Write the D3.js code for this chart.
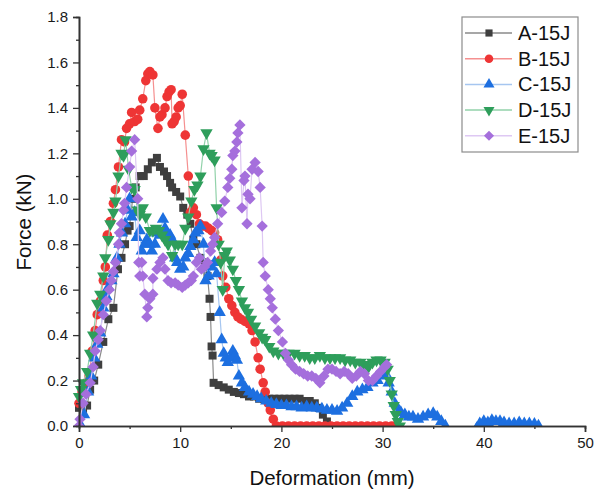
<!DOCTYPE html>
<html lang="en">
<head>
  <meta charset="UTF-8">
  <title>Force vs Deformation</title>
  <script src="https://d3js.org/d3.v7.min.js"></script>
  <style>
    body { margin: 0; padding: 0; background: #fff; }
    svg { display: block; font-family: "Liberation Sans", Arial, sans-serif; }
    .axis path, .axis line { stroke: #333; }
    .axis text { fill: #1a1a1a; font-size: 15px; }
    .title { fill: #111; font-size: 20.5px; }
    .legend text { fill: #111; font-size: 20px; }
  </style>
</head>
<body>
  <svg id="chart"></svg>

  <script>
    // [deformation (mm), force (kN)]
    const seriesA = [[0,0.08],[0.4,0.07],[0.8,0.09],[1.1,0.16],[1.5,0.2],[1.9,0.27],[2.4,0.37],[2.9,0.47],[3.4,0.52],
      [3.85,0.69],[4.2,0.74],[4.55,0.8],[4.8,0.86],[5.0,0.88],[5.3,1.0],[5.6,1.05],[6.0,1.1],[6.4,1.1],[6.8,1.13],
      [7.2,1.16],[7.7,1.18],[8.0,1.14],[8.4,1.12],[8.7,1.1],[9.0,1.07],[9.2,1.05],[9.6,1.03],[10.0,1.01],[10.3,0.96],
      [10.7,0.93],[11.0,0.89],[11.3,0.82],[11.6,0.8],[12.0,0.74],[12.4,0.72],[12.7,0.66],[12.9,0.56],[13.0,0.48],
      [13.1,0.35],[13.2,0.31],[13.3,0.19],[13.8,0.18],[14.3,0.17],[14.8,0.16],[15.3,0.15],[15.8,0.145],[16.3,0.14],
      [16.8,0.13],[17.3,0.13],[17.8,0.12],[18.3,0.12],[18.8,0.12],[19.3,0.12],[19.8,0.12],[20.3,0.12],[20.8,0.12],
      [21.3,0.12],[21.8,0.12],[22.3,0.11],[22.8,0.11],[23.3,0.1],[23.7,0.08],[24.1,0.05],[24.5,0.02],[24.9,0.0],[25.3,0.0]];

    const seriesB = [[0,0.1],[0.3,0.15],[0.7,0.19],[1.0,0.22],[1.3,0.33],[1.6,0.42],[1.8,0.49],[2.1,0.55],[2.4,0.64],
      [2.6,0.7],[2.8,0.84],[3.1,0.9],[3.4,0.98],[3.6,1.04],[3.9,1.14],[4.2,1.26],[4.5,1.25],[4.7,1.31],[5.0,1.33],
      [5.2,1.38],[5.5,1.34],[5.8,1.35],[6.0,1.39],[6.3,1.44],[6.6,1.52],[6.8,1.55],[7.0,1.56],[7.3,1.545],[7.5,1.4],
      [7.8,1.31],[8.0,1.36],[8.2,1.37],[8.5,1.4],[8.7,1.45],[8.9,1.47],[9.1,1.48],[9.2,1.33],[9.4,1.34],[9.6,1.36],
      [9.8,1.4],[10.0,1.41],[10.2,1.46],[10.5,1.28],[10.8,1.1],[11.0,0.94],[11.3,0.96],[11.6,0.93],[11.9,0.89],
      [12.2,0.88],[12.5,0.88],[12.8,0.87],[13.1,0.86],[13.4,0.85],[13.7,0.82],[14.0,0.73],[14.2,0.66],[14.5,0.61],
      [14.8,0.56],[15.1,0.53],[15.4,0.5],[15.7,0.48],[16.0,0.47],[16.4,0.46],[16.8,0.45],[17.1,0.42],[17.4,0.37],
      [17.7,0.3],[17.9,0.25],[18.2,0.19],[18.4,0.15],[18.7,0.1],[18.9,0.07],[19.2,0.03],[19.5,0.0],[20.1,0.0],
      [20.7,0.0],[21.3,0.0],[21.9,0.0],[22.5,0.0],[23.1,0.0],[23.7,0.0],[24.3,0.0],[24.9,0.0],[25.5,0.0],[26.1,0.0],
      [26.7,0.0],[27.3,0.0],[27.9,0.0],[28.5,0.0],[29.1,0.0],[29.7,0.0],[30.3,0.0],[30.9,0.0],[31.3,0.0]];

    const seriesC = [[0.2,0.0],[0.5,0.05],[0.9,0.15],[1.2,0.22],[1.5,0.3],[1.8,0.36],[2.1,0.41],[2.4,0.52],[2.7,0.57],
      [2.9,0.61],[3.2,0.64],[3.4,0.67],[3.75,0.74],[4.0,0.8],[4.25,0.85],[4.55,0.89],[4.8,0.95],[5.0,1.0],[5.2,0.92],
      [5.5,0.94],[5.7,0.83],[6.0,0.86],[6.2,0.77],[6.5,0.8],[6.7,0.82],[7.0,0.8],[7.2,0.77],[7.5,0.8],[7.7,0.85],
      [8.0,0.84],[8.3,0.91],[8.5,0.87],[8.7,0.85],[9.0,0.84],[9.2,0.82],[9.5,0.74],[9.7,0.72],[10.0,0.69],[10.3,0.7],
      [10.5,0.74],[10.8,0.76],[11.0,0.79],[11.3,0.82],[11.5,0.85],[11.8,0.86],[12.0,0.88],[12.3,0.8],[12.5,0.64],
      [12.8,0.66],[13.1,0.7],[13.4,0.72],[13.6,0.67],[13.9,0.5],[14.1,0.38],[14.3,0.32],[14.5,0.3],[14.7,0.28],
      [15.0,0.3],[15.2,0.33],[15.4,0.31],[15.6,0.29],[15.8,0.22],[16.1,0.19],[16.4,0.17],[16.8,0.15],[17.2,0.14],
      [17.6,0.13],[18.0,0.12],[18.5,0.11],[19.0,0.1],[19.5,0.095],[20.0,0.09],[20.5,0.09],[21.0,0.085],[21.5,0.085],
      [22.0,0.08],[22.5,0.085],[23.0,0.08],[23.5,0.08],[24.0,0.075],[24.5,0.07],[25.0,0.07],[25.5,0.065],[26.0,0.08],
      [26.5,0.1],[27.0,0.13],[27.5,0.15],[28.0,0.16],[28.5,0.17],[29.0,0.19],[29.5,0.2],[30.0,0.22],[30.3,0.23],
      [30.6,0.19],[30.9,0.15],[31.2,0.1],[31.5,0.07],[31.8,0.06],[32.2,0.05],[32.6,0.04],[33.0,0.04],[33.5,0.03],
      [34.0,0.04],[34.5,0.05],[35.0,0.055],[35.4,0.04],[35.8,0.02],[36.2,0.0],[36.7,-0.04],[37.5,-0.04],[38.5,-0.04],
      [39.3,-0.01],[39.6,0.01],[40.0,0.02],[40.4,0.015],[40.8,0.025],[41.2,0.02],[41.6,0.02],[42.0,0.015],[42.5,0.01],
      [43.0,0.01],[43.5,0.015],[44.0,0.01],[44.5,0.01],[45.0,0.008],[45.4,0.0]];

    const seriesD = [[0,0.13],[0.2,0.16],[0.4,0.19],[0.8,0.24],[1.1,0.32],[1.4,0.4],[1.8,0.54],[2.1,0.58],[2.4,0.66],
      [2.6,0.74],[2.9,0.82],[3.1,0.89],[3.4,0.94],[3.6,0.99],[3.9,1.1],[4.2,1.2],[4.4,1.19],[4.6,1.26],[4.9,1.13],
      [5.2,1.05],[5.5,1.04],[5.8,0.95],[6.0,0.93],[6.3,0.96],[6.6,0.92],[7.0,0.86],[7.3,0.86],[7.6,0.87],[7.9,0.86],
      [8.2,0.84],[8.5,0.82],[8.8,0.8],[9.2,0.75],[9.5,0.8],[9.8,0.8],[10.2,0.8],[10.5,0.87],[10.8,0.92],[11.1,0.99],
      [11.4,1.04],[11.7,1.06],[12.0,1.1],[12.3,1.22],[12.6,1.29],[12.9,1.2],[13.1,1.19],[13.4,1.17],[13.6,0.96],
      [13.8,0.8],[14.0,0.72],[14.2,0.6],[14.4,0.75],[14.6,0.77],[14.9,0.73],[15.2,0.69],[15.5,0.64],[15.8,0.6],
      [16.1,0.55],[16.4,0.52],[16.7,0.5],[17.0,0.47],[17.4,0.44],[17.8,0.41],[18.1,0.39],[18.4,0.38],[18.8,0.35],
      [19.2,0.33],[19.7,0.32],[20.2,0.32],[20.7,0.32],[21.3,0.32],[21.8,0.31],[22.3,0.31],[22.8,0.3],[23.3,0.3],
      [23.8,0.31],[24.3,0.3],[24.8,0.3],[25.3,0.3],[25.8,0.3],[26.3,0.29],[26.8,0.29],[27.3,0.28],[27.8,0.28],
      [28.2,0.27],[28.6,0.26],[29.0,0.28],[29.4,0.29],[29.8,0.29],[30.2,0.28],[30.5,0.25],[30.7,0.2],[30.9,0.14],
      [31.1,0.09],[31.3,0.05],[31.5,0.02],[31.7,0.0]];

    const seriesE = [[0.0,0.0],[0.1,0.03],[0.4,0.1],[0.7,0.14],[1.1,0.19],[1.4,0.26],[1.6,0.33],[1.9,0.38],[2.1,0.42],
      [2.4,0.49],[2.7,0.55],[3.0,0.6],[3.2,0.64],[3.4,0.68],[3.6,0.72],[3.9,0.8],[4.0,0.85],[4.2,0.89],[4.4,0.95],
      [4.5,0.98],[4.7,1.05],[5.0,1.14],[5.2,1.21],[5.5,1.26],[5.8,1.0],[5.9,0.72],[6.0,0.66],[6.2,0.72],[6.3,0.66],
      [6.5,0.58],[6.7,0.48],[6.8,0.52],[7.0,0.56],[7.3,0.58],[7.3,0.65],[7.7,0.69],[8.0,0.72],[8.3,0.74],[8.5,0.69],
      [8.8,0.64],[9.1,0.63],[9.5,0.63],[9.8,0.62],[10.2,0.61],[10.5,0.62],[10.8,0.63],[11.1,0.64],[11.3,0.66],
      [11.6,0.72],[11.9,0.74],[12.1,0.69],[12.4,0.7],[12.7,0.72],[13.0,0.77],[13.2,0.8],[13.4,0.83],[13.7,0.89],
      [14.1,0.94],[14.4,0.99],[14.7,1.05],[14.9,1.09],[15.1,1.13],[15.2,1.19],[15.4,1.21],[15.6,1.25],[15.7,1.29],
      [15.9,1.325],[16.1,0.96],[16.3,1.08],[16.4,1.1],[16.6,0.89],[16.7,1.02],[16.9,1.0],[17.1,1.13],[17.4,1.16],
      [17.7,1.12],[17.9,1.05],[18.1,0.88],[18.2,0.72],[18.4,0.66],[18.7,0.6],[18.9,0.56],[19.1,0.52],[19.4,0.47],
      [19.7,0.42],[20.1,0.37],[20.4,0.32],[20.7,0.29],[21.0,0.27],[21.4,0.25],[21.8,0.24],[22.2,0.23],[22.6,0.22],
      [23.0,0.22],[23.4,0.21],[23.8,0.19],[24.2,0.22],[24.6,0.25],[25.0,0.25],[25.4,0.24],[25.8,0.23],[26.2,0.24],
      [26.6,0.23],[27.0,0.21],[27.4,0.22],[27.8,0.24],[28.2,0.23],[28.6,0.2],[29.0,0.2],[29.4,0.22],[29.8,0.24],
      [30.2,0.26],[30.4,0.27]];

    const seriesNames = ['A-15J', 'B-15J', 'C-15J', 'D-15J', 'E-15J'];
    const seriesData = [seriesA, seriesB, seriesC, seriesD, seriesE];
    const markerColors = ['#3f3f3f', '#ee3535', '#1d6fe0', '#2e9e5b', '#a56fdc'];
    const lineColors = ['#8a8a8a', '#f59090', '#a6c6f0', '#92d2aa', '#dec8f3'];
    const symbolTypes = [d3.symbolSquare, d3.symbolCircle, d3.symbolTriangle, d3.symbolTriangle, d3.symbolSquare];
    const symbolSizes = [64, 72, 66, 66, 64];
    const symbolRotate = [0, 0, 0, 180, 45];

    const width = 595, height = 493;
    const svg = d3.select('#chart').attr('width', width).attr('height', height);

    const x = d3.scaleLinear().domain([0, 50]).range([79, 585]);
    const y = d3.scaleLinear().domain([0, 1.8]).range([426, 17]);

    svg.append('clipPath').attr('id', 'plotClip')
      .append('rect').attr('x', 70).attr('y', 0).attr('width', 525).attr('height', 426);

    const plot = svg.append('g').attr('clip-path', 'url(#plotClip)');

    const line = d3.line().x(d => x(d[0])).y(d => y(d[1]));

    seriesData.forEach((data, i) => {
      const g = plot.append('g');
      g.append('path')
        .datum(data)
        .attr('d', line)
        .attr('fill', 'none')
        .attr('stroke', lineColors[i])
        .attr('stroke-width', 1.2);
      const sym = d3.symbol().type(symbolTypes[i]).size(symbolSizes[i]);
      g.selectAll('path.pt')
        .data(data)
        .enter().append('path')
        .attr('class', 'pt')
        .attr('d', sym)
        .attr('fill', markerColors[i])
        .attr('transform', d => `translate(${x(d[0])},${y(d[1])}) rotate(${symbolRotate[i]})`);
    });

    // axes
    const xAxis = d3.axisBottom(x).tickValues(d3.range(0, 51, 10)).tickSize(6).tickPadding(5).tickFormat(d3.format('d'));
    const xMinor = d3.axisBottom(x).tickValues(d3.range(5, 50, 10)).tickSize(3).tickFormat('');
    const yAxis = d3.axisLeft(y).tickValues(d3.range(0, 1.81, 0.2)).tickSize(6).tickPadding(5).tickFormat(d3.format('.1f'));
    const yMinor = d3.axisLeft(y).tickValues(d3.range(0.1, 1.8, 0.2)).tickSize(3).tickFormat('');

    svg.append('g').attr('class', 'axis').attr('transform', 'translate(0,426)').call(xMinor);
    svg.append('g').attr('class', 'axis').attr('transform', 'translate(0,426)').call(xAxis);
    svg.append('g').attr('class', 'axis').attr('transform', 'translate(79,0)').call(yMinor);
    svg.append('g').attr('class', 'axis').attr('transform', 'translate(79,0)').call(yAxis);
    svg.selectAll('.axis path.domain').attr('stroke-width', 1.6);
    svg.selectAll('.axis line').attr('stroke-width', 1.3);

    svg.append('text').attr('class', 'title')
      .attr('x', 332).attr('y', 485)
      .attr('text-anchor', 'middle')
      .text('Deformation (mm)');

    svg.append('text').attr('class', 'title')
      .attr('transform', 'translate(31,222) rotate(-90)')
      .attr('text-anchor', 'middle')
      .text('Force (kN)');

    // legend
    const legend = svg.append('g').attr('class', 'legend');
    legend.append('rect')
      .attr('x', 462).attr('y', 17).attr('width', 116).attr('height', 135)
      .attr('fill', '#fff').attr('stroke', '#8c8c8c').attr('stroke-width', 1.2);

    seriesNames.forEach((name, i) => {
      const ly = 33 + i * 25.7;
      legend.append('line')
        .attr('x1', 465).attr('x2', 512).attr('y1', ly).attr('y2', ly)
        .attr('stroke', lineColors[i]).attr('stroke-width', 1.5);
      legend.append('path')
        .attr('d', d3.symbol().type(symbolTypes[i]).size(symbolSizes[i] * 0.8)())
        .attr('fill', markerColors[i])
        .attr('transform', `translate(489,${ly}) rotate(${symbolRotate[i]})`);
      legend.append('text')
        .attr('x', 518).attr('y', ly + 7)
        .text(name);
    });
  </script>
</body>
</html>
